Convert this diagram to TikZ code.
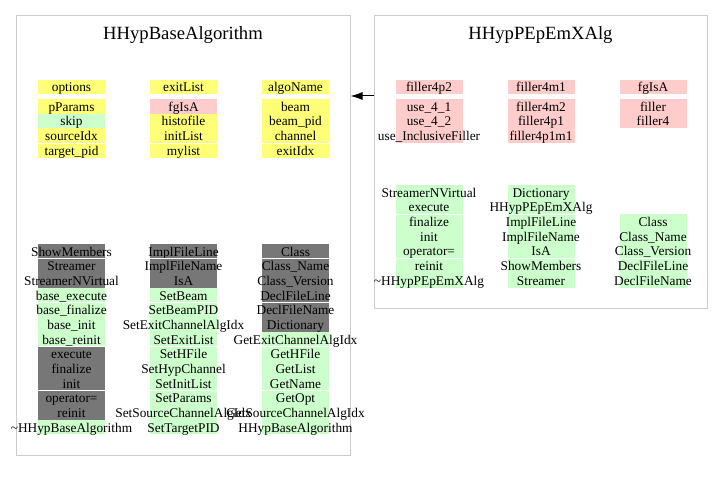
\documentclass[tikz,border=0pt]{standalone}
\usepackage{fontspec}
\setmainfont{Liberation Serif}
\usetikzlibrary{arrows.meta}
\definecolor{yel}{HTML}{FFFF77}
\definecolor{pnk}{HTML}{FFCCCC}
\definecolor{grn}{HTML}{CCFFCC}
\definecolor{dgr}{HTML}{777777}
\definecolor{frame}{HTML}{CCCCCC}

\begin{document}
\begin{tikzpicture}[x=0.75pt,y=-0.75pt]
\tikzstyle{panel}=[rectangle, draw=frame, line width=0.75pt, inner sep=0pt]
\tikzstyle{title}=[anchor=base, inner sep=0pt, font=\fontsize{14}{16}\selectfont]
\tikzstyle{cell}=[rectangle, inner sep=0pt, minimum width=50.25pt, minimum height=10.99pt, text height=8.5pt, text depth=1pt, font=\fontsize{10}{12}\selectfont]
\tikzstyle{sep}=[white, line width=0.75pt]
\tikzstyle{inherit}=[-{Latex[length=9pt,width=6pt]}, line width=0.75pt]

\useasboundingbox (0,0) rectangle (723,481);

\node[panel, minimum width=250.5pt, minimum height=329.25pt] (base) at (183,235.5) {};
\node[panel, minimum width=249.75pt, minimum height=219pt] (derived) at (540.5,162) {};
\node[title] (basename) at (183,40) {HHypBaseAlgorithm};
\node[title] (derivedname) at (540.5,40) {HHypPEpEmXAlg};

\coordinate (arr) at (362,96);
\draw[inherit] (derived.west |- arr) -- (base.east |- arr);

% data members
\foreach \x/\k/\lst in {
  71.5/1/{options/yel,pParams/yel,skip/grn,sourceIdx/yel,target\_pid/yel},
  183.5/2/{exitList/yel,fgIsA/pnk,histofile/yel,initList/yel,mylist/yel},
  295.5/3/{algoName/yel,beam/yel,beam\_pid/yel,channel/yel,exitIdx/yel}}
  \foreach \t/\c [count=\i] in \lst {
    \pgfmathsetmacro\ry{\i==1 ? 86.9 : 99+(\i-1.5)*14.65}
    \node[cell, fill=\c] (bt\k-\i) at (\x,\ry) {\makebox[0pt]{\t}};
  }
\foreach \x/\k/\lst in {
  429/1/{filler4p2,use\_4\_1,use\_4\_2,use\_InclusiveFiller},
  541/2/{filler4m1,filler4m2,filler4p1,filler4p1m1},
  653/3/{fgIsA,filler,filler4}}
  \foreach \t [count=\i] in \lst {
    \pgfmathsetmacro\ry{\i==1 ? 86.9 : 99+(\i-1.5)*14.65}
    \node[cell, fill=pnk] (dt\k-\i) at (\x,\ry) {\makebox[0pt]{\t}};
  }

% member functions
\foreach \x/\k/\lst in {
  71.5/1/{ShowMembers/dgr,Streamer/dgr,StreamerNVirtual/dgr,base\_execute/grn,base\_finalize/grn,base\_init/grn,base\_reinit/grn,execute/dgr,finalize/dgr,init/dgr,operator=/dgr,reinit/dgr,\textasciitilde HHypBaseAlgorithm/grn},
  183.5/2/{ImplFileLine/dgr,ImplFileName/dgr,IsA/dgr,SetBeam/grn,SetBeamPID/grn,SetExitChannelAlgIdx/grn,SetExitList/grn,SetHFile/grn,SetHypChannel/grn,SetInitList/grn,SetParams/grn,SetSourceChannelAlgIdx/grn,SetTargetPID/grn},
  295.5/3/{Class/dgr,Class\_Name/dgr,Class\_Version/dgr,DeclFileLine/dgr,DeclFileName/dgr,Dictionary/dgr,GetExitChannelAlgIdx/grn,GetHFile/grn,GetList/grn,GetName/grn,GetOpt/grn,GetSourceChannelAlgIdx/grn,HHypBaseAlgorithm/grn}}
  \foreach \t/\c [count=\i] in \lst
    \node[cell, fill=\c] (bb\k-\i) at (\x,{244+(\i-0.5)*14.65}) {\makebox[0pt]{\t}};
\foreach \x/\k/\lst in {
  429/1/{StreamerNVirtual,execute,finalize,init,operator=,reinit,\textasciitilde HHypPEpEmXAlg},
  541/2/{Dictionary,HHypPEpEmXAlg,ImplFileLine,ImplFileName,IsA,ShowMembers,Streamer}}
  \foreach \t [count=\i] in \lst
    \node[cell, fill=grn] (db\k-\i) at (\x,{185+(\i-0.5)*14.65}) {\makebox[0pt]{\t}};
\foreach \t [count=\i from 3] in {Class,Class\_Name,Class\_Version,DeclFileLine,DeclFileName}
  \node[cell, fill=grn] (db3-\i) at (653,{185+(\i-0.5)*14.65}) {\makebox[0pt]{\t}};

\foreach \k in {1,2,3}
  \draw[sep] (bt\k-4.south west) -- (bt\k-4.south east);
\foreach \k in {1,2,3}
  \foreach \r in {1,4,7,10}
    \draw[sep] (bb\k-\r.south west) -- (bb\k-\r.south east);
\foreach \k/\r in {1/2,1/5,2/2,2/5,3/5}
  \draw[sep] (db\k-\r.south west) -- (db\k-\r.south east);
\end{tikzpicture}
\end{document}
